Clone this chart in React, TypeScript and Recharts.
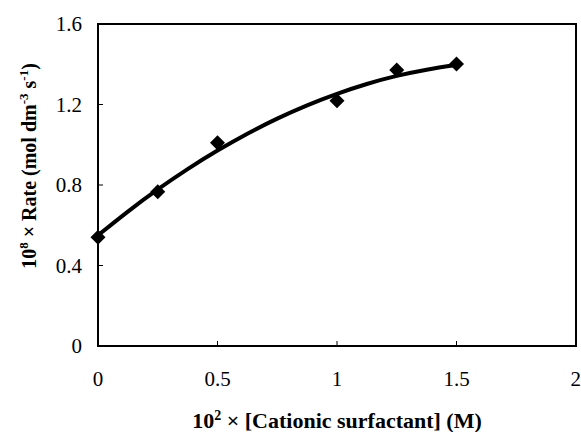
import { ComposedChart, Line, Scatter, XAxis, YAxis, ReferenceArea, Label } from "recharts"

// measured rate points (diamonds)
const conc = [0, 0.25, 0.5, 1.0, 1.25, 1.5]
const rate = [0.54, 0.767, 1.01, 1.219, 1.371, 1.401]

// fitted trend line
const fitConc = [0, 0.125, 0.25, 0.375, 0.5, 0.625, 0.75, 0.875, 1.0, 1.125, 1.25, 1.375, 1.5]
const fitRate = [0.55, 0.668, 0.778, 0.879, 0.971, 1.055, 1.13, 1.196, 1.253, 1.302, 1.342, 1.373, 1.396]

const xTicks = [0, 0.5, 1, 1.5, 2]
const yTicks = [0, 0.4, 0.8, 1.2, 1.6]

const points = conc.map((x, i) => ({ x, y: rate[i] }))
const fit = fitConc.map((x, i) => ({ x, y: fitRate[i] }))

const font = "'Liberation Serif', 'Times New Roman', serif"

const Diamond = (props: any) => {
  const { cx, cy } = props
  const r = 7.5
  return <polygon points={`${cx},${cy - r} ${cx + r},${cy} ${cx},${cy + r} ${cx - r},${cy}`} fill="#000" />
}

const XTitle = (props: any) => {
  const { x, width } = props.viewBox
  return (
    <text x={x + width / 2} y={428} textAnchor="middle" fontFamily={font} fontSize={22} fontWeight="bold" fill="#000">
      10<tspan fontSize={14} dy={-8}>2</tspan>
      <tspan dy={8}> × [Cationic surfactant] (M)</tspan>
    </text>
  )
}

const YTitle = () => {
  const cx = 36
  const cy = 166
  return (
    <text x={cx} y={cy} transform={`rotate(-90 ${cx} ${cy})`} textAnchor="middle" fontFamily={font} fontSize={20} fontWeight="bold" fill="#000">
      10<tspan fontSize={13} dy={-8}>8</tspan>
      <tspan dy={8}> × Rate (mol dm</tspan>
      <tspan fontSize={13} dy={-8}>-3</tspan>
      <tspan dy={8}> s</tspan>
      <tspan fontSize={13} dy={-8}>-1</tspan>
      <tspan dy={8}>)</tspan>
    </text>
  )
}

export default function App() {
  return (
    <div style={{ position: "absolute", left: 0, top: 0, background: "#fff" }}>
      <ComposedChart width={581} height={432} margin={{ top: 24, right: 5, bottom: 46, left: 38 }}>
        <XAxis
          type="number"
          dataKey="x"
          domain={[0, 2]}
          ticks={xTicks}
          height={40}
          axisLine={{ stroke: "#000", strokeWidth: 2 }}
          tickLine={{ stroke: "#000", strokeWidth: 1 }}
          tickSize={-5}
          tickMargin={30}
          tick={{ fill: "#000", fontFamily: font, fontSize: 21 }}
          allowDuplicatedCategory={false}
        >
          <Label content={XTitle} />
        </XAxis>
        <YAxis
          type="number"
          dataKey="y"
          domain={[0, 1.6]}
          ticks={yTicks}
          width={60}
          axisLine={{ stroke: "#000", strokeWidth: 2 }}
          tickLine={{ stroke: "#000", strokeWidth: 1 }}
          tickSize={-5}
          tickMargin={21}
          tick={{ fill: "#000", fontFamily: font, fontSize: 21 }}
        >
          <Label content={YTitle} />
        </YAxis>
        <ReferenceArea x1={0} x2={2} y1={0} y2={1.6} fill="none" stroke="#000" strokeWidth={2} ifOverflow="visible" />
        <Line data={fit} dataKey="y" type="natural" stroke="#000" strokeWidth={4} dot={false} isAnimationActive={false} />
        <Scatter data={points} dataKey="y" shape={Diamond} isAnimationActive={false} />
      </ComposedChart>
    </div>
  )
}
